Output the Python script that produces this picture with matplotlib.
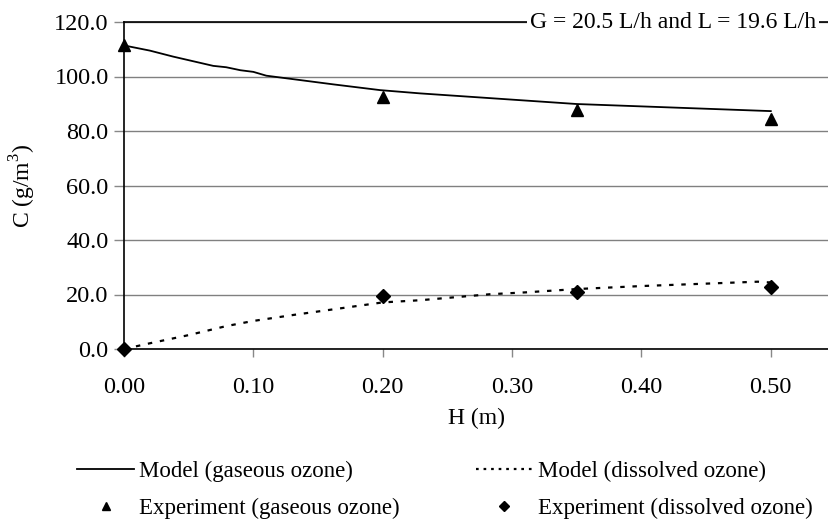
import matplotlib.pyplot as plt
from matplotlib.lines import Line2D

plt.rcParams["font.family"] = ["Liberation Serif", "DejaVu Serif"]
plt.rcParams["mathtext.fontset"] = "custom"
plt.rcParams["mathtext.rm"] = "Liberation Serif"

# model curves
h_model_gas = [0.0, 0.02, 0.038, 0.069, 0.079, 0.09, 0.10, 0.11, 0.136, 0.162, 0.198, 0.229, 0.35, 0.50]
c_model_gas = [111.4, 109.5, 107.3, 103.9, 103.4, 102.3, 101.7, 100.3, 98.7, 97.1, 95.0, 93.8, 89.9, 87.3]

h_model_diss = [0.0, 0.02, 0.05, 0.079, 0.10, 0.131, 0.20, 0.229, 0.283, 0.311, 0.35, 0.40, 0.49, 0.50]
c_model_diss = [0.0, 2.1, 5.1, 8.4, 10.3, 12.5, 17.1, 17.9, 20.1, 20.8, 22.0, 23.1, 24.7, 24.4]

# experimental points
h_exp = [0.0, 0.20, 0.35, 0.50]
c_exp_gas = [111.5, 92.3, 87.7, 84.4]
c_exp_diss = [0.0, 19.4, 21.0, 22.6]

y_ticks = [0, 20, 40, 60, 80, 100, 120]
x_ticks = [0.0, 0.1, 0.2, 0.3, 0.4, 0.5]

fig = plt.figure(figsize=(8.29, 5.21), dpi=100)
ax = fig.add_axes([124 / 829, 1 - 349 / 521, 1 - 124 / 829, (349 - 22) / 521])

ax.plot(h_model_gas, c_model_gas, color="black", linewidth=1.3, zorder=3)
ax.plot(h_model_diss, c_model_diss, color="black", linewidth=1.6, dashes=(2, 3.5), zorder=3)
ax.plot(h_exp, c_exp_gas, linestyle="none", marker="^", markersize=9, color="black", zorder=4, clip_on=False)
ax.plot(h_exp, c_exp_diss, linestyle="none", marker="D", markersize=7, color="black", zorder=4, clip_on=False)

ax.set_xlim(0, 0.545)
ax.set_ylim(0, 120)
ax.set_xticks(x_ticks)
ax.set_xticklabels([f"{v:.2f}" for v in x_ticks])
ax.set_yticks(y_ticks)
ax.set_yticklabels([f"{v:.1f}" for v in y_ticks])
ax.tick_params(axis="y", direction="out", length=7, width=1, color="#888888", labelsize=17.5, pad=4)
ax.tick_params(axis="x", direction="out", length=6, width=1, color="#888888", labelsize=17.5, pad=14)

ax.grid(axis="y", color="#808080", linewidth=1)
ax.set_axisbelow(True)
ax.spines["right"].set_visible(False)
for s in ["left", "bottom", "top"]:
    ax.spines[s].set_linewidth(1.2)
    ax.spines[s].set_color("black")

ax.set_xlabel("H (m)", fontsize=17, labelpad=7)
ax.set_ylabel("C (g/m$^3$)", fontsize=17, labelpad=12)

ax.text(0.982, 1.0, "G = 20.5 L/h and L = 19.6 L/h", transform=ax.transAxes,
        ha="right", va="center", fontsize=17, zorder=5,
        bbox=dict(facecolor="white", edgecolor="none", pad=2))

handles = [
    Line2D([], [], color="black", linewidth=1.3),
    Line2D([], [], linestyle="none", marker="^", markersize=6, color="black"),
    Line2D([], [], color="black", linewidth=1.6, dashes=(1.2, 2.2)),
    Line2D([], [], linestyle="none", marker="D", markersize=5, color="black"),
]
labels = [
    "Model (gaseous ozone)",
    "Experiment (gaseous ozone)",
    "Model (dissolved ozone)",
    "Experiment (dissolved ozone)",
]
fig.legend(handles, labels, ncol=2, loc="lower left", bbox_to_anchor=(77 / 829, 2 / 521),
           frameon=False, fontsize=16.5, handlelength=2.5, handletextpad=0.22,
           columnspacing=3.3, labelspacing=0.7, borderpad=0, borderaxespad=0)

plt.savefig("out.png", dpi=100)
plt.close()
